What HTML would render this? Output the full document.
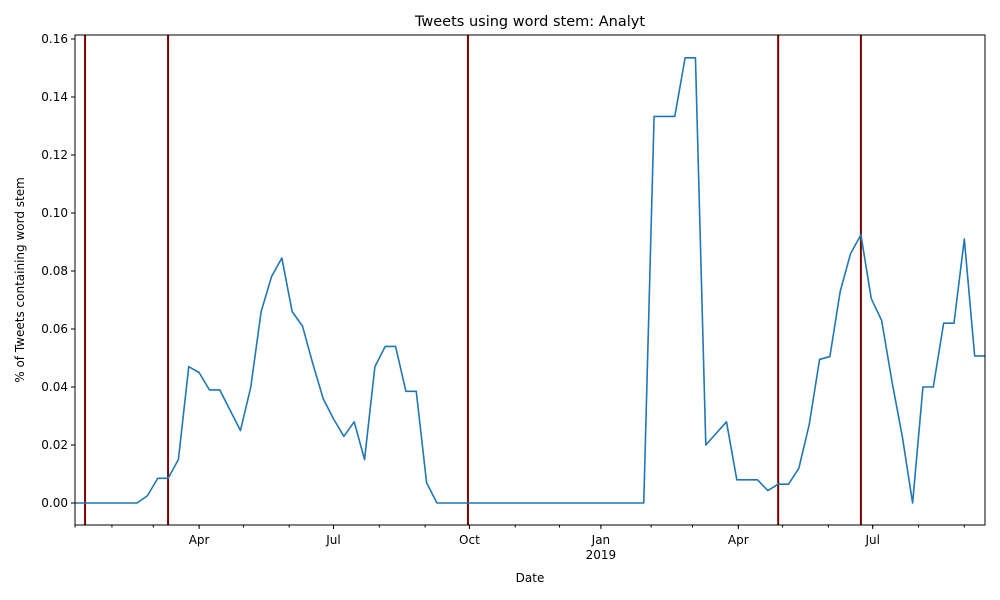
<!DOCTYPE html>
<html><head><meta charset="utf-8"><style>
html,body{margin:0;padding:0;background:#fff;}
svg{display:block;font-family:"DejaVu Sans","Liberation Sans",sans-serif;}
</style></head><body>
<svg id="chart" width="1000" height="600">
<rect width="1000" height="600" fill="#fff"/>
<text x="530" y="26" text-anchor="middle" font-size="14.5">Tweets using word stem: Analyt</text>
<text x="530" y="582" text-anchor="middle" font-size="12">Date</text>
<text transform="translate(24,280) rotate(-90)" text-anchor="middle" font-size="12">% of Tweets containing word stem</text>
</svg>
<script>
const values = [0,0,0,0,0,0,0,0.0025,0.0085,0.0085,0.015,0.047,0.045,0.039,0.039,0.032,0.025,0.040,0.066,0.078,0.0845,0.066,0.061,0.048,0.036,0.029,0.023,0.028,0.015,0.047,0.054,0.054,0.0385,0.0385,0.007,0,
0,0,0,0,0,0,0,0,0,0,0,0,0,0,0,0,0,0,0,0,
0.1333,0.1333,0.1333,0.1535,0.1535,0.020,0.024,0.028,0.008,0.008,0.008,0.0043,0.0065,0.0065,0.012,0.027,0.0495,0.0505,0.073,0.086,0.0925,0.0705,0.063,0.042,0.023,0.000,0.040,0.040,0.062,0.062,0.091,0.0507,0.0507];
const yTicks = [0,0.02,0.04,0.06,0.08,0.10,0.12,0.14,0.16];
const yTickLabels = ["0.00","0.02","0.04","0.06","0.08","0.10","0.12","0.14","0.16"];
const monthDays = [0,25,53,84,114,145,175,206,237,267,298,328,356,390,418,449,479,510,540,571,602];
const majorDays = [84,175,267,356,449,540];
const majorLabels = ["Apr","Jul","Oct","Jan","Apr","Jul"];
const eventDays = [6.8,63,266,476,532];

const L=75,R=985,T=35,B=525;
const maxDay=(values.length-1)*7;
const xDay=d=>L+d/maxDay*(R-L);
const yVal=v=>503-v*2900;
const NS="http://www.w3.org/2000/svg";
const svg=document.getElementById('chart');
function mk(tag,attrs){const e=document.createElementNS(NS,tag);for(const k in attrs)e.setAttribute(k,attrs[k]);svg.appendChild(e);return e;}

eventDays.forEach(d=>{
  const l=mk('line',{x1:xDay(d),x2:xDay(d),y1:T,y2:B,stroke:'#7a0000','stroke-width':2});
  
  
});
const pts=values.map((v,i)=>xDay(i*7).toFixed(2)+','+yVal(v).toFixed(2)).join(' ');
const pl=mk('polyline',{points:pts,fill:'none',stroke:'#1f77b4','stroke-width':1.6,'stroke-linejoin':'round'});



const frame=mk('rect',{x:L,y:T,width:R-L,height:B-T,fill:'none',stroke:'#000','stroke-width':1});



yTicks.forEach((v,i)=>{
  const y=yVal(v);
  mk('line',{x1:L-4,x2:L,y1:y,y2:y,stroke:'#000'});
  const t=mk('text',{x:L-7,y:y+4,'text-anchor':'end','font-size':12});
  t.textContent=yTickLabels[i];
  
  
});
monthDays.forEach(d=>{
  if(d>maxDay)return;
  const x=xDay(d);
  mk('line',{x1:x,x2:x,y1:B,y2:B+2.5,stroke:'#000'});
});
majorDays.forEach((d,i)=>{
  const x=xDay(d);
  mk('line',{x1:x,x2:x,y1:B,y2:B+4,stroke:'#000'});
  const t=mk('text',{x:x,y:B+19,'text-anchor':'middle','font-size':12});
  t.textContent=majorLabels[i];
  
  
  if(majorLabels[i]==='Jan'){
    const t2=mk('text',{x:x,y:B+34,'text-anchor':'middle','font-size':12});
    t2.textContent='2019';
    
    
  }
});
</script>
</body></html>
